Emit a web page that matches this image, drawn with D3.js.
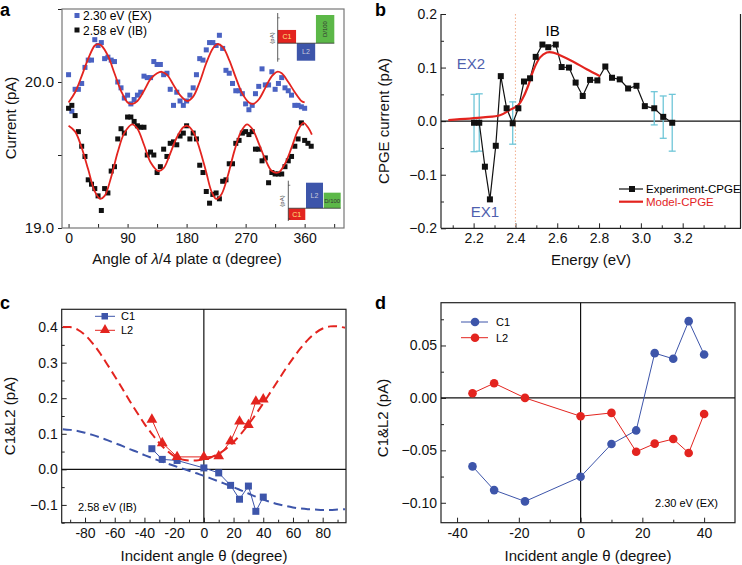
<!DOCTYPE html>
<html>
<head>
<meta charset="utf-8">
<script src="https://cdn.jsdelivr.net/npm/d3@7"></script>
<style>
body { margin: 0; background: #fff; }
svg { display: block; font-family: "Liberation Sans", Arial, sans-serif; }
</style>
</head>
<body>
<div id="T"></div>
<script>
// ---- panel a : current vs angle of the quarter-wave plate
const angleEX = [0,5,10,15,20,25,30,35,40,45,50,55,60,65,70,75,80,85,90,95,100,105,110,115,120,125,130,135,140,145,150,155,160,165,170,175,180,185,190,195,200,205,210,215,220,225,230,235,240,245,250,255,260,265,270,275,280,285,290,295,300,305,310,315,320,325,330,335,340,345,350,355,360];
const currentEX = [20.05,19.80,19.95,19.95,19.99,20.10,20.15,20.15,20.29,20.25,
  20.27,20.16,20.17,20.15,20.14,20.00,19.96,19.89,19.91,19.85,
  19.88,19.91,19.93,20.04,20.03,20.03,20.14,20.12,20.12,20.05,
  20.06,19.95,19.84,19.93,19.87,19.84,19.87,19.91,19.96,20.05,
  20.16,20.15,20.22,20.27,20.27,20.25,20.32,20.23,20.08,20.06,
  19.99,19.94,19.94,19.92,19.85,19.81,19.84,19.92,19.97,20.09,
  19.98,19.98,20.07,19.95,19.99,20.03,19.96,19.94,19.91,19.84,
  19.84,19.83,19.82];
const angleIB = [0,5,10,15,20,25,30,35,40,45,50,55,60,65,70,75,80,85,90,95,100,105,110,115,120,125,130,135,140,145,150,155,160,165,170,175,180,185,190,195,200,205,210,215,220,225,230,235,240,245,250,255,260,265,270,275,280,285,290,295,300,305,310,315,320,325,330,335,340,345,350,355,360,365,370];
const currentIB = [19.82,19.84,19.77,19.66,19.56,19.49,19.33,19.30,19.27,19.22,
  19.12,19.27,19.24,19.39,19.42,19.61,19.68,19.65,19.76,19.76,
  19.73,19.70,19.69,19.69,19.50,19.52,19.50,19.38,19.42,19.54,
  19.49,19.58,19.59,19.57,19.63,19.65,19.70,19.61,19.65,19.61,
  19.43,19.38,19.25,19.17,19.23,19.24,19.20,19.32,19.33,19.44,
  19.44,19.58,19.60,19.65,19.66,19.64,19.66,19.54,19.54,19.46,
  19.48,19.31,19.38,19.37,19.37,19.37,19.42,19.46,19.49,19.56,
  19.61,19.72,19.60,19.58,19.56];
const fitAngleEX = [0,10,20,30,40,45,50,60,70,80,90,97,105,115,125,135,142,150,160,170,181,190,200,210,220,227,235,245,255,265,275,282,290,300,310,318,325,335,345,355,360];
const fitEX = [19.86,19.93,20.04,20.16,20.25,20.26,20.25,20.18,20.06,19.94,19.86,19.85,19.87,19.94,20.02,20.06,20.07,20.05,19.98,19.91,19.87,19.90,20.00,20.13,20.23,20.26,20.24,20.15,20.03,19.92,19.86,19.85,19.88,19.96,20.04,20.07,20.06,20.00,19.93,19.87,19.86];
const fitAngleIB = [0,10,20,30,40,48,55,65,75,85,97,105,115,125,137,145,155,165,175,181,190,200,210,218,225,233,243,253,263,272,280,290,300,310,320,330,340,350,358,365,371];
const fitIB = [19.70,19.66,19.55,19.40,19.25,19.20,19.22,19.35,19.52,19.65,19.71,19.68,19.57,19.45,19.39,19.41,19.51,19.62,19.69,19.70,19.66,19.54,19.38,19.25,19.20,19.23,19.36,19.53,19.66,19.71,19.68,19.58,19.47,19.39,19.38,19.44,19.55,19.67,19.72,19.69,19.64];
const aTicksX = [0,45,90,135,180,225,270,315,360,405];
const aTicksY = [19,19.5,20,20.5];
const insetCats = ["C1","L2","D/100"];
const insetTop = [0.47,-0.62,1.0];
const insetBottom = [-0.46,1.0,0.61];

// ---- panel b : CPGE spectrum
const energyExp = [2.202,2.227,2.254,2.278,2.306,2.330,2.358,2.387,2.414,2.441,2.470,2.497,2.529,2.557,2.593,2.621,2.656,2.688,2.722,2.757,2.792,2.830,2.862,2.899,2.939,2.979,3.019,3.064,3.107,3.150];
const cpgeExp = [-0.003,-0.003,-0.085,-0.146,-0.046,0.084,0.024,-0.004,0.024,0.074,0.080,0.120,0.143,0.138,0.143,0.101,0.100,0.072,0.047,0.077,0.076,0.102,0.081,0.078,0.061,0.066,0.028,0.024,0.008,-0.003];
const energyErr = [2.202,2.227,2.387,3.064,3.107,3.150];
const errLow = [-0.057,-0.056,-0.043,-0.007,-0.032,-0.056];
const errHigh = [0.050,0.051,0.036,0.055,0.047,0.050];
const energyModel = [2.079,2.246,2.326,2.374,2.414,2.438,2.462,2.486,2.518,2.550,2.581,2.613,2.677,2.741,2.805];
const cpgeModel = [0.002,0.007,0.011,0.021,0.030,0.045,0.067,0.095,0.119,0.128,0.128,0.123,0.111,0.097,0.084];
const bTicksX = [2.2,2.4,2.6,2.8,3.0,3.2];
const bMinorX = [2.1,2.3,2.5,2.7,2.9,3.1,3.3,3.4];
const bTicksY = [-0.2,-0.1,0,0.1,0.2];
const bMinorY = [-0.15,-0.05,0.05,0.15];

// ---- panels c and d : incident angle dependence
const theta = [-35,-28,-18,0,10,18,24,30,35,40];
const c1IB = [0.058,0.028,0.025,0.004,-0.010,-0.045,-0.084,-0.047,-0.118,-0.078];
const l2IB = [0.140,0.074,0.035,0.035,0.037,0.079,0.135,0.125,0.191,0.197];
const thetaFit = [-95,-90,-85,-80,-75,-70,-65,-60,-55,-50,-45,-40,-35,-30,-25,-20,-15,-10,-5,0,5,10,15,20,25,30,35,40,45,50,55,60,65,70,75,80,85,90,95];
const l2Fit = [0.400,0.400,0.393,0.378,0.355,0.327,0.295,0.262,0.228,0.193,0.160,0.128,0.100,0.074,0.053,0.037,0.028,0.025,0.025,0.028,0.034,0.044,0.058,0.077,0.100,0.126,0.155,0.186,0.218,0.250,0.282,0.312,0.340,0.364,0.383,0.396,0.402,0.402,0.398];
const c1Fit = [0.113,0.111,0.108,0.103,0.097,0.090,0.082,0.074,0.066,0.057,0.049,0.040,0.032,0.024,0.017,0.010,0.003,-0.004,-0.011,-0.018,-0.026,-0.034,-0.042,-0.050,-0.059,-0.068,-0.077,-0.085,-0.092,-0.098,-0.103,-0.107,-0.110,-0.112,-0.113,-0.114,-0.114,-0.113,-0.112];
const c1EX = [-0.0653,-0.0879,-0.0987,-0.0752,-0.0440,-0.0310,0.0427,0.0373,0.0732,0.0414];
const l2EX = [0.0045,0.0140,0.0000,-0.0175,-0.0143,-0.0513,-0.0436,-0.0392,-0.0525,-0.0153];
const cTicksX = [-80,-60,-40,-20,0,20,40,60,80];
const cMinorX = [-90,-70,-50,-30,-10,10,30,50,70,90];
const cTicksY = [-0.1,0,0.1,0.2,0.3,0.4];
const cMinorY = [-0.15,-0.05,0.05,0.15,0.25,0.35];
const dTicksX = [-40,-20,0,20,40];
const dMinorX = [-30,-10,10,30];
const dTicksY = [-0.10,-0.05,0,0.05];
const dMinorY = [-0.075,-0.025,0.025,0.075];

const RED = "#e3241f", BLUE = "#3d55aa", GREEN = "#5cb848", CYAN = "#6fc6d8";
const FONT = "'Liberation Sans', Arial, sans-serif";

const svg = d3.select("#T").append("svg").attr("width", 742).attr("height", 565);

function axis(g, orient, scale, pos, major, minor, fmt, len, fs) {
  const mk = orient === "bottom" ? d3.axisBottom : d3.axisLeft;
  const tr = orient === "bottom" ? `translate(0,${pos})` : `translate(${pos},0)`;
  const a = g.append("g").attr("transform", tr)
    .call(mk(scale).tickValues(major).tickSizeInner(len).tickSizeOuter(0).tickPadding(orient === "bottom" ? 5 : 4).tickFormat(fmt));
  a.select(".domain").remove();
  a.attr("font-family", FONT).attr("font-size", fs || 14);
  a.selectAll("text").attr("fill", "#111");
  a.selectAll("line").attr("stroke", "#222").attr("stroke-width", 1);
  if (minor) {
    const m = g.append("g").attr("transform", tr)
      .call(mk(scale).tickValues(minor).tickSizeInner(len * 0.6).tickSizeOuter(0).tickFormat(""));
    m.select(".domain").remove();
    m.selectAll("line").attr("stroke", "#222");
  }
  return a;
}
function box(g, x, y, stroke) {
  const [x0, x1] = x.range(), [y0, y1] = y.range();
  g.append("rect").attr("x", x0).attr("y", y1).attr("width", x1 - x0).attr("height", y0 - y1)
    .attr("fill", "none").attr("stroke", stroke || "#222").attr("stroke-width", 1.2);
}
function title(g, txt, x, y, rot) {
  const t = g.append("text").attr("text-anchor", "middle").attr("font-size", 15).attr("fill", "#111")
    .attr("transform", `translate(${x},${y})` + (rot ? " rotate(-90)" : ""));
  return t.text(txt);
}
function letter(txt, x, y) {
  svg.append("text").attr("x", x).attr("y", y).attr("font-size", 18).attr("font-weight", "bold").text(txt);
}

// ================= panel a
{
  const g = svg.append("g");
  const x = d3.scaleLinear().domain([-10, 420]).range([62, 344]);
  const y = d3.scaleLinear().domain([19, 20.5]).range([228, 9]);
  axis(g, "bottom", x, 228, aTicksX, null, d => d % 90 === 0 ? d : "", -4);
  axis(g, "left", y, 62, aTicksY, null, d => Number.isInteger(d) ? d.toFixed(1) : "", 4, 15);
  box(g, x, y, "#777");
  const line = d3.line().x((d, i) => x(d[0])).y(d => y(d[1])).curve(d3.curveCatmullRom);
  g.append("g").selectAll("rect").data(d3.zip(angleEX, currentEX)).join("rect")
    .attr("x", d => x(d[0]) - 2.5).attr("y", d => y(d[1]) - 2.5).attr("width", 5).attr("height", 5).attr("fill", "#4a62c2");
  g.append("g").selectAll("rect").data(d3.zip(angleIB, currentIB)).join("rect")
    .attr("x", d => x(d[0]) - 2.5).attr("y", d => y(d[1]) - 2.5).attr("width", 5).attr("height", 5).attr("fill", "#111");
  g.append("path").attr("d", line(d3.zip(fitAngleEX, fitEX))).attr("fill", "none").attr("stroke", RED).attr("stroke-width", 1.8);
  g.append("path").attr("d", line(d3.zip(fitAngleIB, fitIB))).attr("fill", "none").attr("stroke", RED).attr("stroke-width", 1.8);
  // legend
  g.append("rect").attr("x", 74.5).attr("y", 13).attr("width", 5).attr("height", 5).attr("fill", "#4a62c2");
  g.append("rect").attr("x", 74.5).attr("y", 27.5).attr("width", 5).attr("height", 5).attr("fill", "#111");
  g.append("text").attr("x", 83).attr("y", 20).attr("font-size", 12).text("2.30 eV (EX)");
  g.append("text").attr("x", 83).attr("y", 34.5).attr("font-size", 12).text("2.58 eV (IB)");
  title(g, "Current (pA)", 16, 118, true);
  const xt = g.append("text").attr("x", 187).attr("y", 264).attr("text-anchor", "middle").attr("font-size", 15).attr("fill", "#111");
  xt.append("tspan").text("Angle of ");
  xt.append("tspan").attr("font-style", "italic").text("λ");
  xt.append("tspan").text("/4 plate α (degree)");

  // inset bar charts
  function inset(vals, xr, yr, dom, labelY, rotD) {
    const bx = d3.scaleBand().domain(insetCats).range(xr).paddingInner(0.04);
    const by = d3.scaleLinear().domain(dom).range(yr);
    const ig = g.append("g");
    ig.selectAll("rect").data(insetCats).join("rect")
      .attr("x", d => bx(d)).attr("width", bx.bandwidth())
      .attr("y", (d, i) => by(Math.max(0, vals[i]))).attr("height", (d, i) => Math.abs(by(vals[i]) - by(0)))
      .attr("fill", (d, i) => [RED, BLUE, GREEN][i]);
    ig.append("line").attr("x1", xr[0]).attr("x2", xr[1]).attr("y1", by(0)).attr("y2", by(0)).attr("stroke", "#333").attr("stroke-width", 0.8);
    ig.append("line").attr("x1", xr[0]).attr("x2", xr[0]).attr("y1", yr[0] + 1).attr("y2", yr[1] - 2).attr("stroke", "#333").attr("stroke-width", 0.8);
    ig.selectAll(".tk").data([dom[0] * 0.9, dom[1] * 0.9]).join("line")
      .attr("x1", xr[0]).attr("x2", xr[0] + 2).attr("y1", d => by(d)).attr("y2", d => by(d)).attr("stroke", "#333").attr("stroke-width", 0.6);
    ig.append("text").attr("font-size", 6).attr("text-anchor", "middle").attr("fill", "#333")
      .attr("transform", `translate(${xr[0] - 4},${labelY}) rotate(-90)`).text("(pA)");
    insetCats.forEach((c, i) => {
      const cx = bx(c) + bx.bandwidth() / 2, cy = (by(vals[i]) + by(0)) / 2;
      const t = ig.append("text").attr("font-size", i === 2 ? 6 : 7).attr("text-anchor", "middle").attr("dy", "0.35em")
        .attr("fill", i === 0 ? "#ffe680" : i === 1 ? "#ccd" : "#333").text(c);
      if (i === 2 && rotD) t.attr("transform", `translate(${cx},${cy}) rotate(-90)`);
      else t.attr("x", cx).attr("y", cy);
    });
  }
  inset(insetTop, [277.7, 334.3], [60.7, 15], [-0.62, 1.0], 38, true);
  inset(insetBottom, [288.3, 340.7], [220, 182.7], [-0.46, 1.0], 201, false);
  letter("a", 0, 16);
}

// ================= panel b
{
  const g = svg.append("g");
  const x = d3.scaleLinear().domain([2.044, 3.479]).range([441, 741]);
  const y = d3.scaleLinear().domain([-0.2, 0.2]).range([228.3, 14]);
  axis(g, "bottom", x, 228.3, bTicksX, bMinorX, d3.format(".1f"), -5);
  axis(g, "left", y, 441, bTicksY, bMinorY, d3.format(".1f"), -5);
  g.append("line").attr("x1", 441).attr("x2", 441).attr("y1", 14).attr("y2", 228.3).attr("stroke", "#222").attr("stroke-width", 1.2);
  g.append("line").attr("x1", 441).attr("x2", 741).attr("y1", 228.3).attr("y2", 228.3).attr("stroke", "#222").attr("stroke-width", 1.2);
  g.append("line").attr("x1", 740.5).attr("x2", 740.5).attr("y1", 14).attr("y2", 228.3).attr("stroke", "#222").attr("stroke-width", 1.2);
  g.append("line").attr("x1", 441).attr("x2", 741).attr("y1", y(0)).attr("y2", y(0)).attr("stroke", "#111").attr("stroke-width", 1.2);
  g.append("line").attr("x1", x(2.4)).attr("x2", x(2.4)).attr("y1", 14).attr("y2", 228).attr("stroke", "#f2b090").attr("stroke-width", 1).attr("stroke-dasharray", "1.5,2");
  // error bars
  const eb = g.append("g").attr("stroke", CYAN).attr("stroke-width", 1.3);
  energyErr.forEach((e, i) => {
    eb.append("line").attr("x1", x(e)).attr("x2", x(e)).attr("y1", y(errLow[i])).attr("y2", y(errHigh[i]));
    [errLow[i], errHigh[i]].forEach(v => eb.append("line").attr("x1", x(e) - 3.5).attr("x2", x(e) + 3.5).attr("y1", y(v)).attr("y2", y(v)));
  });
  const line = d3.line().x(d => x(d[0])).y(d => y(d[1]));
  g.append("path").attr("d", line(d3.zip(energyExp, cpgeExp))).attr("fill", "none").attr("stroke", "#111").attr("stroke-width", 1.2);
  g.append("path").attr("d", line.curve(d3.curveCatmullRom)(d3.zip(energyModel, cpgeModel))).attr("fill", "none").attr("stroke", RED).attr("stroke-width", 2.2);
  g.append("g").selectAll("rect").data(d3.zip(energyExp, cpgeExp)).join("rect")
    .attr("x", d => x(d[0]) - 3).attr("y", d => y(d[1]) - 3).attr("width", 6).attr("height", 6).attr("fill", "#111");
  // legend
  g.append("line").attr("x1", 619).attr("x2", 643).attr("y1", 189).attr("y2", 189).attr("stroke", "#111").attr("stroke-width", 1.2);
  g.append("rect").attr("x", 629).attr("y", 186).attr("width", 6).attr("height", 6).attr("fill", "#111");
  g.append("text").attr("x", 646).attr("y", 193).attr("font-size", 11.5).text("Experiment-CPGE");
  g.append("line").attr("x1", 619).attr("x2", 643).attr("y1", 201.7).attr("y2", 201.7).attr("stroke", RED).attr("stroke-width", 2.2);
  g.append("text").attr("x", 646).attr("y", 205.7).attr("font-size", 11.5).attr("fill", RED).text("Model-CPGE");
  g.append("text").attr("x", 552.7).attr("y", 36).attr("text-anchor", "middle").attr("font-size", 15).text("IB");
  g.append("text").attr("x", 471).attr("y", 68.5).attr("text-anchor", "middle").attr("font-size", 15).attr("fill", "#4f5fae").text("EX2");
  g.append("text").attr("x", 485).attr("y", 217).attr("text-anchor", "middle").attr("font-size", 15).attr("fill", "#4f5fae").text("EX1");
  title(g, "CPGE current (pA)", 389, 121, true);
  title(g, "Energy (eV)", 591, 265, false);
  letter("b", 375, 16);
}

// ================= panel c
{
  const g = svg.append("g");
  const x = d3.scaleLinear().domain([-95.7, 95.7]).range([61.7, 346]);
  const y = d3.scaleLinear().domain([-0.15, 0.45]).range([522.7, 309.3]);
  axis(g, "bottom", x, 522.7, cTicksX, cMinorX, d => d, -5);
  axis(g, "left", y, 61.7, cTicksY, cMinorY, d3.format(".1f"), -5);
  box(g, x, y);
  g.append("line").attr("x1", x(0)).attr("x2", x(0)).attr("y1", 309.3).attr("y2", 522.7).attr("stroke", "#111").attr("stroke-width", 1.2);
  g.append("line").attr("x1", 61.7).attr("x2", 346).attr("y1", y(0)).attr("y2", y(0)).attr("stroke", "#111").attr("stroke-width", 1.2);
  const sm = d3.line().x(d => x(d[0])).y(d => y(d[1])).curve(d3.curveCatmullRom);
  g.append("path").attr("d", sm(d3.zip(thetaFit, l2Fit))).attr("fill", "none").attr("stroke", RED).attr("stroke-width", 2).attr("stroke-dasharray", "9,5");
  g.append("path").attr("d", sm(d3.zip(thetaFit, c1Fit))).attr("fill", "none").attr("stroke", BLUE).attr("stroke-width", 2).attr("stroke-dasharray", "9,5");
  const ln = d3.line().x(d => x(d[0])).y(d => y(d[1]));
  g.append("path").attr("d", ln(d3.zip(theta, c1IB))).attr("fill", "none").attr("stroke", BLUE).attr("stroke-width", 1);
  g.append("path").attr("d", ln(d3.zip(theta, l2IB))).attr("fill", "none").attr("stroke", RED).attr("stroke-width", 1);
  g.append("g").selectAll("rect").data(d3.zip(theta, c1IB)).join("rect")
    .attr("x", d => x(d[0]) - 3.5).attr("y", d => y(d[1]) - 3.5).attr("width", 7).attr("height", 7).attr("fill", BLUE);
  const tri = d3.symbol(d3.symbolTriangle, 50);
  g.append("g").selectAll("path").data(d3.zip(theta, l2IB)).join("path")
    .attr("d", tri).attr("transform", d => `translate(${x(d[0])},${y(d[1])})`).attr("fill", RED);
  // legend
  g.append("line").attr("x1", 95).attr("x2", 115).attr("y1", 316.3).attr("y2", 316.3).attr("stroke", BLUE);
  g.append("rect").attr("x", 101.5).attr("y", 313).attr("width", 6.5).attr("height", 6.5).attr("fill", BLUE);
  g.append("text").attr("x", 121).attr("y", 320.3).attr("font-size", 11).text("C1");
  g.append("line").attr("x1", 95).attr("x2", 115).attr("y1", 330.3).attr("y2", 330.3).attr("stroke", RED);
  g.append("path").attr("d", d3.symbol(d3.symbolTriangle, 45)).attr("transform", "translate(105,330)").attr("fill", RED);
  g.append("text").attr("x", 121).attr("y", 334.3).attr("font-size", 11).text("L2");
  g.append("text").attr("x", 78).attr("y", 511).attr("font-size", 11).text("2.58 eV (IB)");
  title(g, "C1&L2 (pA)", 15, 416, true);
  title(g, "Incident angle θ (degree)", 204, 561, false);
  letter("c", 0, 309);
}

// ================= panel d
{
  const g = svg.append("g");
  const x = d3.scaleLinear().domain([-45.2, 50]).range([441, 735]);
  const y = d3.scaleLinear().domain([-0.119, 0.0908]).range([522.7, 302.7]);
  axis(g, "bottom", x, 522.7, dTicksX, dMinorX, d => d, -5);
  axis(g, "left", y, 441, dTicksY, dMinorY, d3.format(".2f"), -5);
  box(g, x, y);
  g.append("line").attr("x1", x(0)).attr("x2", x(0)).attr("y1", 302.7).attr("y2", 522.7).attr("stroke", "#111").attr("stroke-width", 1.2);
  g.append("line").attr("x1", 441).attr("x2", 735).attr("y1", y(0)).attr("y2", y(0)).attr("stroke", "#111").attr("stroke-width", 1.2);
  const ln = d3.line().x(d => x(d[0])).y(d => y(d[1]));
  g.append("path").attr("d", ln(d3.zip(theta, c1EX))).attr("fill", "none").attr("stroke", BLUE).attr("stroke-width", 1);
  g.append("path").attr("d", ln(d3.zip(theta, l2EX))).attr("fill", "none").attr("stroke", RED).attr("stroke-width", 1);
  g.append("g").selectAll("circle").data(d3.zip(theta, c1EX)).join("circle")
    .attr("cx", d => x(d[0])).attr("cy", d => y(d[1])).attr("r", 4.3).attr("fill", BLUE);
  g.append("g").selectAll("circle").data(d3.zip(theta, l2EX)).join("circle")
    .attr("cx", d => x(d[0])).attr("cy", d => y(d[1])).attr("r", 4.3).attr("fill", RED);
  // legend
  g.append("line").attr("x1", 461).attr("x2", 488).attr("y1", 322).attr("y2", 322).attr("stroke", BLUE);
  g.append("circle").attr("cx", 475).attr("cy", 322).attr("r", 4.3).attr("fill", BLUE);
  g.append("text").attr("x", 496).attr("y", 326).attr("font-size", 11).text("C1");
  g.append("line").attr("x1", 461).attr("x2", 488).attr("y1", 337.7).attr("y2", 337.7).attr("stroke", RED);
  g.append("circle").attr("cx", 475).attr("cy", 337.7).attr("r", 4.3).attr("fill", RED);
  g.append("text").attr("x", 496).attr("y", 341.7).attr("font-size", 11).text("L2");
  g.append("text").attr("x", 718).attr("y", 507).attr("text-anchor", "end").attr("font-size", 11).text("2.30 eV (EX)");
  title(g, "C1&L2 (pA)", 388, 418, true);
  title(g, "Incident angle θ (degree)", 588, 561, false);
  letter("d", 375, 309);
}
</script>
</body>
</html>
